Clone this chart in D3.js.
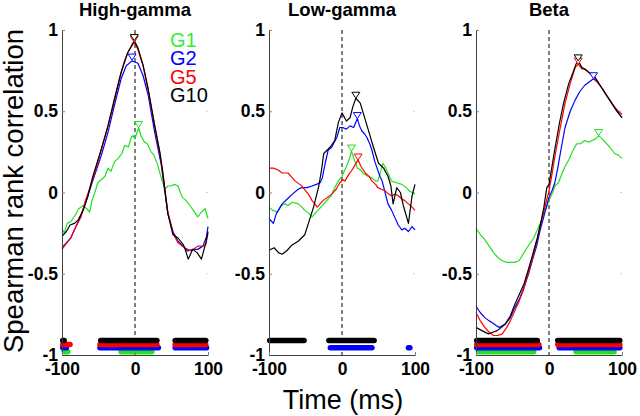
<!DOCTYPE html>
<html>
<head>
<meta charset="utf-8">
<script src="https://cdn.jsdelivr.net/npm/d3@7"></script>
<style>
  body { margin: 0; background: #fff; }
  svg { display: block; font-family: "Liberation Sans", Arial, sans-serif; }
</style>
</head>
<body>
<div id="chart"></div>
<script>
// ---- data ----
const panelTitles = ["High-gamma", "Low-gamma", "Beta"];
const groups = ["G1", "G2", "G5", "G10"];
const groupColors = ["#22e022", "#0000ff", "#ff0000", "#000000"];
const yTicks = [-1, -0.5, 0, 0.5, 1];
const yTickLabels = ["-1", "-0.5", "0", "0.5", "1"];
const xTicks = [-100, 0, 100];
const xTickLabels = ["-100", "0", "100"];
// rows of significance markers, one level per group
const sigLevels = [-0.98, -0.955, -0.935, -0.91];

// High-gamma
const hgG1 = [[-100,-0.22],[-97,-0.25],[-93,-0.19],[-88,-0.18],[-82,-0.14],[-77,-0.10],[-71,-0.08],[-66,-0.10],[-62,-0.12],[-59,-0.05],[-55,0.0],[-51,0.06],[-46,0.08],[-41,0.10],[-37,0.15],[-33,0.13],[-28,0.19],[-23,0.21],[-18,0.24],[-14,0.29],[-9,0.28],[-5,0.34],[-3,0.35],[0,0.33],[5,0.40],[8,0.35],[13,0.31],[17,0.30],[22,0.25],[26,0.23],[31,0.17],[36,0.09],[41,0.02],[45,0.04],[49,0.04],[54,0.05],[59,0.04],[62,0.0],[65,-0.03],[70,-0.05],[75,-0.08],[80,-0.11],[86,-0.15],[91,-0.12],[96,-0.10],[100,-0.16]];
const hgG2 = [[-100,-0.34],[-94,-0.31],[-88,-0.28],[-82,-0.22],[-74,-0.14],[-66,-0.04],[-58,0.07],[-46,0.23],[-37,0.37],[-28,0.54],[-19,0.70],[-12,0.78],[-4,0.81],[4,0.795],[11,0.72],[18,0.60],[27,0.37],[36,0.17],[41,0.0],[45,-0.13],[52,-0.24],[59,-0.30],[66,-0.33],[72,-0.36],[79,-0.35],[86,-0.35],[93,-0.33],[98,-0.27],[100,-0.21]];
const hgG5 = [[-100,-0.35],[-95,-0.32],[-88,-0.28],[-82,-0.22],[-74,-0.15],[-68,-0.05],[-60,0.05],[-50,0.20],[-40,0.36],[-30,0.53],[-20,0.72],[-15,0.80],[-10,0.86],[-6,0.89],[-1,0.925],[4,0.88],[11,0.78],[18,0.63],[27,0.41],[34,0.24],[40,0.05],[45,-0.12],[52,-0.25],[59,-0.31],[68,-0.34],[77,-0.36],[86,-0.33],[93,-0.33],[97,-0.32],[100,-0.25]];
const hgG10 = [[-100,-0.27],[-94,-0.24],[-89,-0.20],[-83,-0.19],[-78,-0.17],[-71,-0.11],[-65,-0.03],[-60,0.06],[-57,0.11],[-46,0.27],[-37,0.41],[-28,0.58],[-19,0.74],[-10,0.86],[-1,0.935],[4,0.89],[11,0.785],[18,0.64],[27,0.41],[34,0.25],[38,0.13],[41,0.015],[45,-0.13],[52,-0.26],[59,-0.28],[66,-0.32],[68,-0.34],[73,-0.41],[79,-0.35],[85,-0.37],[91,-0.41],[97,-0.31],[100,-0.24]];
const hgPeaks = [[5,0.40],[-4,0.815],[-1,0.925],[-1,0.935]];
const hgSig = [["G1",-97,-92],["G1",-19,23],
  ["G2",-99,-94],["G2",-48,32],["G2",55,98],
  ["G5",-99,-89],["G5",-48,30],["G5",55,97],
  ["G10",-99,-97],["G10",-47,30],["G10",55,97]];

// Low-gamma
const lgG1 = [[-100,-0.09],[-95,-0.11],[-88,-0.12],[-83,-0.08],[-78,-0.07],[-74,-0.08],[-68,-0.06],[-60,-0.07],[-55,-0.09],[-51,-0.11],[-45,-0.13],[-41,-0.15],[-37,-0.13],[-33,-0.11],[-27,-0.08],[-21,-0.05],[-15,-0.02],[-10,0.03],[-5,0.07],[0,0.10],[4,0.14],[8,0.18],[11,0.22],[13,0.255],[17,0.20],[21,0.15],[25,0.14],[29,0.12],[35,0.10],[41,0.09],[46,0.07],[49,0.07],[53,0.13],[56,0.18],[60,0.15],[63,0.12],[68,0.07],[75,0.06],[82,0.05],[88,0.03],[92,0.01],[96,0.0],[100,-0.01]];
const lgG2 = [[-100,-0.16],[-94,-0.19],[-90,-0.13],[-82,-0.07],[-75,-0.04],[-68,-0.01],[-60,0.02],[-55,0.03],[-48,0.03],[-41,0.04],[-35,0.05],[-30,0.06],[-27,0.09],[-23,0.18],[-19,0.26],[-14,0.28],[-7,0.34],[-3,0.40],[1,0.40],[6,0.39],[11,0.41],[16,0.40],[21,0.455],[24,0.41],[27,0.38],[31,0.36],[34,0.34],[38,0.30],[41,0.26],[45,0.19],[48,0.15],[52,0.10],[55,0.07],[59,0.0],[63,-0.07],[68,-0.11],[72,-0.15],[77,-0.20],[82,-0.23],[86,-0.22],[91,-0.24],[96,-0.21],[100,-0.23]];
const lgG5 = [[-100,0.15],[-94,0.15],[-88,0.14],[-82,0.12],[-74,0.12],[-68,0.09],[-64,0.07],[-58,0.05],[-55,0.04],[-50,0.01],[-46,-0.01],[-41,-0.05],[-37,-0.07],[-34,-0.09],[-30,-0.07],[-26,-0.05],[-20,-0.03],[-14,-0.01],[-8,0.02],[-3,0.06],[1,0.08],[4,0.07],[9,0.11],[14,0.14],[18,0.17],[22,0.20],[26,0.16],[32,0.12],[37,0.10],[41,0.07],[46,0.05],[49,0.03],[54,0.02],[59,0.01],[64,-0.01],[68,-0.02],[73,-0.01],[77,-0.02],[82,-0.04],[86,-0.05],[91,-0.07],[96,-0.09],[100,-0.11]];
const lgG10 = [[-100,-0.355],[-93,-0.34],[-87,-0.37],[-82,-0.38],[-76,-0.36],[-69,-0.325],[-60,-0.30],[-51,-0.26],[-46,-0.19],[-39,-0.09],[-32,0.035],[-28,0.14],[-25,0.24],[-16,0.28],[-10,0.32],[-5,0.43],[0,0.49],[6,0.44],[11,0.46],[15,0.53],[19,0.58],[25,0.55],[29,0.49],[36,0.385],[43,0.28],[50,0.18],[57,0.15],[63,0.10],[67,0.04],[70,-0.07],[75,0.03],[80,0.0],[84,-0.08],[91,-0.19],[96,-0.02],[100,0.05]];
const lgPeaks = [[13,0.255],[21,0.455],[22,0.20],[19,0.58]];
const lgSig = [["G2",-16,41],["G2",91,93],
  ["G10",-99,-52],["G10",-18,44]];

// Beta
const btG1 = [[-100,-0.22],[-94,-0.26],[-88,-0.29],[-82,-0.33],[-76,-0.37],[-70,-0.40],[-64,-0.42],[-58,-0.43],[-53,-0.43],[-47,-0.43],[-41,-0.42],[-37,-0.39],[-33,-0.36],[-27,-0.32],[-21,-0.28],[-16,-0.23],[-12,-0.19],[-6,-0.12],[0,-0.05],[5,0.0],[8,0.04],[13,0.06],[18,0.12],[22,0.16],[27,0.20],[33,0.26],[38,0.30],[43,0.30],[49,0.32],[54,0.31],[59,0.32],[64,0.33],[68,0.35],[73,0.33],[77,0.31],[83,0.28],[90,0.24],[95,0.23],[100,0.21]];
const btG2 = [[-100,-0.70],[-94,-0.74],[-88,-0.77],[-82,-0.79],[-78,-0.80],[-72,-0.82],[-68,-0.83],[-64,-0.82],[-60,-0.81],[-53,-0.77],[-47,-0.71],[-40,-0.65],[-34,-0.58],[-28,-0.50],[-23,-0.42],[-17,-0.33],[-12,-0.23],[-6,-0.13],[0,-0.03],[4,0.01],[8,0.06],[12,0.15],[17,0.28],[22,0.40],[29,0.50],[36,0.57],[42,0.62],[49,0.66],[55,0.68],[61,0.70],[66,0.68],[73,0.64],[80,0.59],[86,0.55],[93,0.50],[100,0.46]];
const btG5 = [[-100,-0.74],[-94,-0.79],[-88,-0.83],[-82,-0.86],[-76,-0.88],[-70,-0.88],[-64,-0.87],[-58,-0.83],[-53,-0.79],[-47,-0.73],[-41,-0.67],[-35,-0.60],[-30,-0.52],[-24,-0.43],[-19,-0.34],[-14,-0.25],[-10,-0.17],[-5,-0.08],[0,0.01],[4,0.11],[8,0.22],[15,0.39],[22,0.55],[29,0.67],[36,0.77],[40,0.79],[45,0.76],[49,0.76],[54,0.74],[59,0.72],[66,0.68],[73,0.64],[80,0.59],[86,0.55],[93,0.51],[100,0.48]];
const btG10 = [[-100,-0.83],[-92,-0.85],[-83,-0.87],[-77,-0.86],[-71,-0.85],[-65,-0.83],[-60,-0.81],[-53,-0.76],[-47,-0.69],[-40,-0.62],[-34,-0.56],[-26,-0.44],[-21,-0.36],[-16,-0.28],[-11,-0.18],[-7,-0.09],[-3,0.03],[0,0.05],[7,0.24],[14,0.42],[20,0.55],[27,0.67],[33,0.74],[37,0.79],[40,0.81],[45,0.77],[52,0.75],[57,0.73],[63,0.71],[70,0.66],[77,0.61],[83,0.57],[90,0.52],[95,0.49],[100,0.46]];
const btPeaks = [[68,0.35],[61,0.70],[40,0.79],[40,0.81]];
const btSig = [["G1",-96,-21],["G1",37,89],
  ["G2",-99,-13],["G2",14,97],
  ["G5",-99,-14],["G5",12,97],
  ["G10",-99,-16],["G10",12,97]];

// ---- layout ----
const width = 640, height = 416;
const panelLeft = [62, 269, 476];
const panelWidth = 146;
const plotTop = 30, plotBottom = 355;

const panels = [
  { title: panelTitles[0], lines: [hgG1, hgG2, hgG5, hgG10], peaks: hgPeaks, sig: hgSig },
  { title: panelTitles[1], lines: [lgG1, lgG2, lgG5, lgG10], peaks: lgPeaks, sig: lgSig },
  { title: panelTitles[2], lines: [btG1, btG2, btG5, btG10], peaks: btPeaks, sig: btSig }
];

const svg = d3.select("#chart").append("svg")
  .attr("width", width)
  .attr("height", height);

svg.append("rect").attr("width", width).attr("height", height).attr("fill", "#fff");

const y = d3.scaleLinear().domain([-1, 1]).range([plotBottom, plotTop]);
const color = d3.scaleOrdinal().domain(groups).range(groupColors);

panels.forEach((p, pi) => {
  const x0 = panelLeft[pi];
  const x = d3.scaleLinear().domain([-100, 100]).range([x0, x0 + panelWidth]);
  const g = svg.append("g");

  // title
  g.append("text")
    .attr("x", x(0))
    .attr("y", 16)
    .attr("text-anchor", "middle")
    .attr("font-size", 18.5)
    .attr("font-weight", "bold")
    .text(p.title);

  // faint right-side ticks
  g.selectAll(".rtick")
    .data(yTicks.slice(1, 4))
    .enter().append("line")
    .attr("x1", x(100) - 2).attr("x2", x(100))
    .attr("y1", d => y(d)).attr("y2", d => y(d))
    .attr("stroke", "#d0d0d0");

  // zero line
  g.append("line")
    .attr("x1", x(0)).attr("x2", x(0))
    .attr("y1", y(1)).attr("y2", y(-1))
    .attr("stroke", "#000")
    .attr("stroke-width", 1)
    .attr("stroke-dasharray", "4,3");

  // significance rows
  const order = ["G1", "G2", "G5", "G10"];
  order.forEach(gr => {
    const lvl = sigLevels[groups.indexOf(gr)];
    g.selectAll(null)
      .data(p.sig.filter(s => s[0] === gr))
      .enter().append("line")
      .attr("x1", d => x(d[1])).attr("x2", d => x(d[2]))
      .attr("y1", y(lvl)).attr("y2", y(lvl))
      .attr("stroke", color(gr))
      .attr("stroke-width", 5.5)
      .attr("stroke-linecap", "round");
  });

  // curves
  const line = d3.line().x(d => x(d[0])).y(d => y(d[1]));
  p.lines.forEach((arr, i) => {
    g.append("path")
      .datum(arr)
      .attr("d", line)
      .attr("fill", "none")
      .attr("stroke", groupColors[i])
      .attr("stroke-width", 1.2)
      .attr("stroke-linejoin", "round");
  });

  // peak markers (open downward triangles)
  p.peaks.forEach((pk, i) => {
    const px = x(pk[0]), py = y(pk[1]);
    g.append("path")
      .attr("d", `M${px - 4},${py - 6}L${px + 4},${py - 6}L${px},${py}Z`)
      .attr("fill", "#fff")
      .attr("stroke", groupColors[i])
      .attr("stroke-width", 1);
  });

  // axes
  const yAxis = d3.axisLeft(y)
    .tickValues(yTicks)
    .tickFormat((d, i) => yTickLabels[i])
    .tickSizeInner(-3)
    .tickSizeOuter(0)
    .tickPadding(4);
  const ya = g.append("g").attr("transform", `translate(${x0},0)`).call(yAxis);

  const xAxis = d3.axisBottom(x)
    .tickValues(xTicks)
    .tickFormat((d, i) => xTickLabels[i])
    .tickSizeInner(-3)
    .tickSizeOuter(0)
    .tickPadding(8);
  const xa = g.append("g").attr("transform", `translate(0,${plotBottom})`).call(xAxis);

  [ya, xa].forEach(a => {
    a.select(".domain").attr("stroke", "#404040");
    a.selectAll(".tick line").attr("stroke", "#808080");
    a.selectAll(".tick text")
      .attr("fill", "#000")
      .attr("font-size", 17.5)
      .attr("font-weight", "bold")
      .attr("font-family", "Liberation Sans, Arial, sans-serif");
  });
});

// legend
const legend = svg.append("g");
const legendY = [47, 65, 84, 102];
groups.forEach((gr, i) => {
  legend.append("text")
    .attr("x", 170)
    .attr("y", legendY[i])
    .attr("font-size", 20)
    .attr("fill", i === 0 ? "#33ee33" : groupColors[i])
    .text(gr);
});

// axis titles
svg.append("text")
  .attr("x", panelLeft[1] + panelWidth / 2 + 1)
  .attr("y", 409)
  .attr("text-anchor", "middle")
  .attr("font-size", 27)
  .text("Time (ms)");

svg.append("text")
  .attr("transform", "translate(23,191) rotate(-90)")
  .attr("text-anchor", "middle")
  .attr("font-size", 27.5)
  .text("Spearman rank correlation");
</script>
</body>
</html>
